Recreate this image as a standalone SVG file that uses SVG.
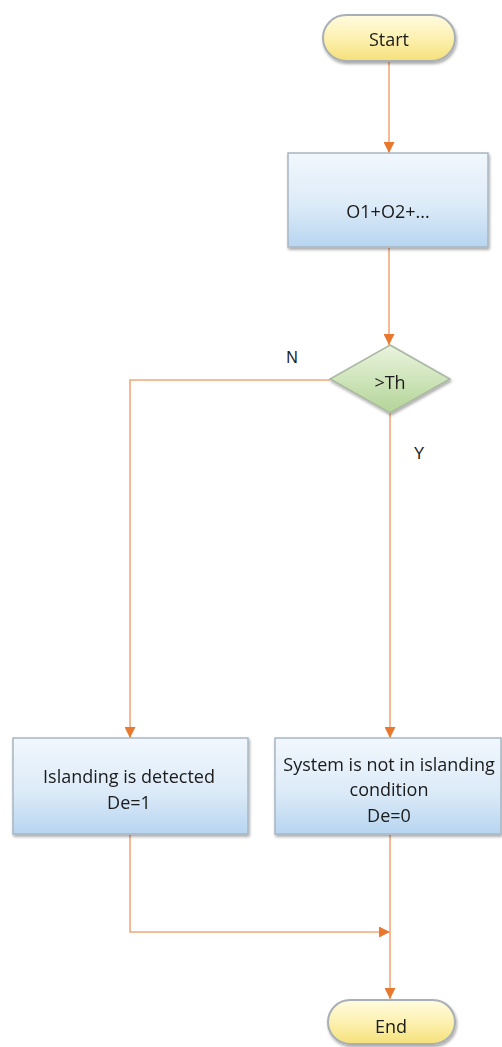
<svg xmlns="http://www.w3.org/2000/svg" width="502" height="1047" viewBox="0 0 502 1047">
<style>
.t{font-family:"Open Sans","Liberation Sans",sans-serif;font-size:18px;fill:#1a1a1a;text-anchor:middle}
.lbl{font-family:"Liberation Sans",Arial,sans-serif;font-size:16px;fill:#222;text-anchor:middle}
.c{fill:none;stroke:#F5A878;stroke-width:1.6}
</style>
<defs>
<linearGradient id="gy" x1="0" y1="0" x2="0" y2="1">
<stop offset="0" stop-color="#FFFBE0"/><stop offset="0.5" stop-color="#FDF1B0"/><stop offset="1" stop-color="#F5E07A"/>
</linearGradient>
<linearGradient id="gb" x1="0" y1="0" x2="0" y2="1">
<stop offset="0" stop-color="#F1F7FD"/><stop offset="0.55" stop-color="#DDEBF8"/><stop offset="1" stop-color="#B7D5F0"/>
</linearGradient>
<linearGradient id="gg" x1="0" y1="0" x2="0" y2="1">
<stop offset="0" stop-color="#EAF4DE"/><stop offset="1" stop-color="#B3D497"/>
</linearGradient>
<filter id="sh" x="-10%" y="-10%" width="120%" height="130%">
<feGaussianBlur in="SourceAlpha" stdDeviation="1.5"/>
<feOffset dx="1" dy="1.5" result="b"/>
<feComponentTransfer><feFuncA type="linear" slope="0.35"/></feComponentTransfer>
<feMerge><feMergeNode/><feMergeNode in="SourceGraphic"/></feMerge>
</filter>
<marker id="ah" viewBox="0 0 10 10" refX="10" refY="5" markerWidth="11" markerHeight="11" markerUnits="userSpaceOnUse" orient="auto">
<path d="M0,0 L10,5 L0,10 z" fill="#E8782E"/>
</marker>
</defs>

<g id="connectors">
<path class="c" d="M389,62 V153" marker-end="url(#ah)"/>
<path class="c" d="M389,248 V345" marker-end="url(#ah)"/>
<path class="c" d="M330,380 H130 V738" marker-end="url(#ah)"/>
<path class="c" d="M390,413 V738" marker-end="url(#ah)"/>
<path class="c" d="M130,835 V932 H390" marker-end="url(#ah)"/>
<path class="c" d="M390,835 V999" marker-end="url(#ah)"/>
</g>

<g id="labels">
<text class="lbl" x="292" y="363">N</text>
<text class="lbl" x="419" y="459">Y</text>
</g>

<g id="start" filter="url(#sh)">
<rect x="323" y="15" width="132" height="46" rx="23" fill="url(#gy)" stroke="#A9B0B5" stroke-width="2"/>
<text class="t" x="389" y="46">Start</text>
</g>

<g id="sum" filter="url(#sh)">
<rect x="288" y="153" width="200" height="94" fill="url(#gb)" stroke="#A8B6C2" stroke-width="1.5"/>
<text class="t" x="388" y="218">O1+O2+...</text>
</g>

<g id="decision" filter="url(#sh)">
<polygon points="390,345 450,379 390,413 330,379" fill="url(#gg)" stroke="#A9B7A2" stroke-width="1.5"/>
<text class="t" x="390" y="389">&gt;Th</text>
</g>

<g id="detected" filter="url(#sh)">
<rect x="13" y="738" width="235" height="96" fill="url(#gb)" stroke="#A8B6C2" stroke-width="1.5"/>
<text class="t" x="129" y="783">Islanding is detected</text>
<text class="t" x="129" y="809">De=1</text>
</g>

<g id="notdetected" filter="url(#sh)">
<rect x="275" y="738" width="226" height="96" fill="url(#gb)" stroke="#A8B6C2" stroke-width="1.5"/>
<text class="t" x="389" y="771">System is not in islanding</text>
<text class="t" x="389" y="796">condition</text>
<text class="t" x="389" y="822">De=0</text>
</g>

<g id="end" filter="url(#sh)">
<rect x="328" y="1000" width="127" height="44" rx="22" fill="url(#gy)" stroke="#A9B0B5" stroke-width="2"/>
<text class="t" x="391" y="1033">End</text>
</g>
</svg>
